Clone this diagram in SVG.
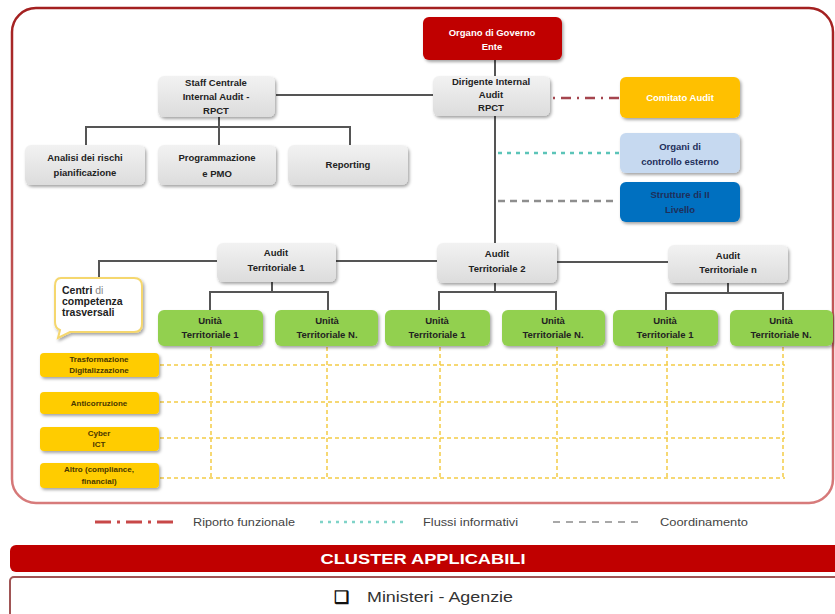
<svg xmlns="http://www.w3.org/2000/svg" width="835" height="614" viewBox="0 0 835 614">
<defs>
<filter id="sh" x="-10%" y="-10%" width="130%" height="140%">
<feDropShadow dx="1.5" dy="2" stdDeviation="1.5" flood-color="#000" flood-opacity="0.35"/>
</filter>
<linearGradient id="gray" x1="0" y1="0" x2="0" y2="1">
<stop offset="0" stop-color="#F2F2F2"/><stop offset="1" stop-color="#DCDCDC"/>
</linearGradient>
<linearGradient id="frame" x1="0" y1="0" x2="0" y2="1">
<stop offset="0" stop-color="#A32020"/><stop offset="1" stop-color="#D77B7B"/>
</linearGradient>
<style>
text{font-family:"Liberation Sans",Arial,sans-serif;}
.t{font-size:9.5px;font-weight:bold;fill:#222;text-anchor:middle;}
.tw{font-size:9.5px;font-weight:bold;fill:#fff;text-anchor:middle;}
.tn{font-size:9.5px;font-weight:bold;fill:#1F2F5A;text-anchor:middle;}
.ty{font-size:8px;font-weight:bold;fill:#4A3800;text-anchor:middle;}
.gray{fill:url(#gray);filter:url(#sh);}
.green{fill:#92D050;filter:url(#sh);}
.yel{fill:#FFCC00;filter:url(#sh);}
.ln{stroke:#555;stroke-width:2;fill:none;}
.grid{stroke:#F3CB45;stroke-width:1.5;stroke-dasharray:4 3;fill:none;}
.leg{font-size:11px;fill:#444;}
</style>
</defs>
<rect x="12" y="8" width="821" height="495" rx="24" fill="#fff" stroke="url(#frame)" stroke-width="2.5"/>
<g id="connectors">
<line class="ln" x1="495" y1="60" x2="495" y2="76"/>
<line class="ln" x1="495" y1="116" x2="495" y2="243"/>
<line class="ln" x1="276" y1="95" x2="433" y2="95"/>
<polyline class="ln" points="219,117 219,127"/>
<polyline class="ln" points="86,145 86,127 350,127 350,145"/>
<line class="ln" x1="219" y1="127" x2="219" y2="145"/>
<line x1="553" y1="98" x2="620" y2="98" stroke="#A5454E" stroke-width="2.5" stroke-dasharray="2 6 10 6"/>
<line x1="498" y1="153" x2="620" y2="153" stroke="#5BC4B8" stroke-width="2.5" stroke-dasharray="4 5"/>
<line x1="498" y1="201" x2="618" y2="201" stroke="#8E8E8E" stroke-width="2.5" stroke-dasharray="7 5"/>
<polyline class="ln" points="99,278 99,261 217,261"/>
<line class="ln" x1="336" y1="261" x2="437" y2="261"/>
<line class="ln" x1="557" y1="262" x2="668" y2="262"/>
<line class="ln" x1="272" y1="282" x2="272" y2="292"/>
<polyline class="ln" points="210,310 210,292 328,292 328,310"/>
<line class="ln" x1="495" y1="283" x2="495" y2="292"/>
<polyline class="ln" points="439,310 439,292 556,292 556,310"/>
<line class="ln" x1="728" y1="283" x2="728" y2="293"/>
<polyline class="ln" points="666,310 666,293 783,293 783,310"/>
<g id="grid">
<line class="grid" x1="160" y1="365" x2="785" y2="365"/>
<line class="grid" x1="160" y1="402" x2="785" y2="402"/>
<line class="grid" x1="160" y1="438" x2="785" y2="438"/>
<line class="grid" x1="160" y1="478" x2="785" y2="478"/>
<line class="grid" x1="211" y1="347" x2="211" y2="478"/>
<line class="grid" x1="327" y1="347" x2="327" y2="478"/>
<line class="grid" x1="440" y1="347" x2="440" y2="478"/>
<line class="grid" x1="557" y1="347" x2="557" y2="478"/>
<line class="grid" x1="667" y1="347" x2="667" y2="478"/>
<line class="grid" x1="783" y1="347" x2="783" y2="478"/>
</g>
</g>
<g id="organo"><rect x="423" y="17" width="139" height="43" rx="6" fill="#C00000" filter="url(#sh)"/>
<text class="tw" x="492" y="36">Organo di Governo</text><text class="tw" x="492" y="50">Ente</text></g>
<g id="dirigente"><rect class="gray" x="433" y="76" width="117" height="40" rx="6"/>
<text class="t" x="491" y="85">Dirigente Internal</text><text class="t" x="491" y="98">Audit</text><text class="t" x="491" y="111">RPCT</text></g>
<g id="staff"><rect class="gray" x="158" y="76" width="117" height="41" rx="6"/>
<text class="t" x="216" y="86">Staff Centrale</text><text class="t" x="216" y="100">Internal Audit -</text><text class="t" x="216" y="114">RPCT</text></g>
<g id="analisi"><rect class="gray" x="25" y="145" width="120" height="40" rx="6"/>
<text class="t" x="85" y="161">Analisi dei rischi</text><text class="t" x="85" y="176">pianificazione</text></g>
<g id="programmazione"><rect class="gray" x="158" y="145" width="118" height="40" rx="6"/>
<text class="t" x="217" y="161">Programmazione</text><text class="t" x="217" y="177">e PMO</text></g>
<g id="reporting"><rect class="gray" x="288" y="145" width="120" height="40" rx="6"/>
<text class="t" x="348" y="168">Reporting</text></g>
<g id="comitato"><rect x="620" y="77" width="120" height="41" rx="6" fill="#FFC000" filter="url(#sh)"/>
<text class="tw" x="680" y="101">Comitato Audit</text></g>
<g id="organi"><rect x="620" y="133" width="120" height="40" rx="6" fill="#C6D9F0" filter="url(#sh)"/>
<text class="tn" x="680" y="150">Organi di</text><text class="tn" x="680" y="165">controllo esterno</text></g>
<g id="strutture"><rect x="620" y="182" width="120" height="40" rx="6" fill="#0070C0" filter="url(#sh)"/>
<text class="tn" x="680" y="198">Strutture di II</text><text class="tn" x="680" y="213">Livello</text></g>
<g id="audit1"><rect class="gray" x="217" y="243" width="119" height="39" rx="6"/>
<text class="t" x="276" y="256">Audit</text><text class="t" x="276" y="271">Territoriale 1</text></g>
<g id="audit2"><rect class="gray" x="437" y="243" width="120" height="40" rx="6"/>
<text class="t" x="497" y="257">Audit</text><text class="t" x="497" y="272">Territoriale 2</text></g>
<g id="auditn"><rect class="gray" x="668" y="245" width="120" height="38" rx="6"/>
<text class="t" x="728" y="259">Audit</text><text class="t" x="728" y="273">Territoriale n</text></g>
<g id="centri">
<path d="M61,278 H134 Q142,278 142,286 V324 Q142,332 134,332 H70 L58,338 L60,330 Q55,328 55,322 V286 Q55,278 61,278 Z" fill="#fff" stroke="#F5D76E" stroke-width="2" filter="url(#sh)"/>
<text x="62" y="294" font-size="10.5" font-weight="bold" fill="#222">Centri <tspan font-weight="normal" fill="#888">di</tspan></text>
<text x="62" y="305" font-size="10.5" font-weight="bold" fill="#222">competenza</text>
<text x="62" y="316" font-size="10.5" font-weight="bold" fill="#222">trasversali</text>
</g>
<g id="u1a"><rect class="green" x="158" y="310" width="105" height="36" rx="6"/>
<text class="t" x="210" y="324">Unità</text><text class="t" x="210" y="338">Territoriale 1</text></g>
<g id="una"><rect class="green" x="275" y="310" width="103" height="36" rx="6"/>
<text class="t" x="327" y="324">Unità</text><text class="t" x="327" y="338">Territoriale N.</text></g>
<g id="u1b"><rect class="green" x="385" y="310" width="105" height="36" rx="6"/>
<text class="t" x="437" y="324">Unità</text><text class="t" x="437" y="338">Territoriale 1</text></g>
<g id="unb"><rect class="green" x="502" y="310" width="103" height="36" rx="6"/>
<text class="t" x="553" y="324">Unità</text><text class="t" x="553" y="338">Territoriale N.</text></g>
<g id="u1c"><rect class="green" x="613" y="310" width="105" height="36" rx="6"/>
<text class="t" x="665" y="324">Unità</text><text class="t" x="665" y="338">Territoriale 1</text></g>
<g id="unc"><rect class="green" x="730" y="310" width="103" height="36" rx="6"/>
<text class="t" x="781" y="324">Unità</text><text class="t" x="781" y="338">Territoriale N.</text></g>
<g id="trasformazione"><rect class="yel" x="40" y="353" width="119" height="24" rx="4"/>
<text class="ty" x="99" y="362">Trasformazione</text><text class="ty" x="99" y="373">Digitalizzazione</text></g>
<g id="anticorruzione"><rect class="yel" x="40" y="392" width="119" height="22" rx="4"/>
<text class="ty" x="99" y="406">Anticorruzione</text></g>
<g id="cyber"><rect class="yel" x="40" y="427" width="119" height="24" rx="4"/>
<text class="ty" x="99" y="436">Cyber</text><text class="ty" x="99" y="447">ICT</text></g>
<g id="altro"><rect class="yel" x="40" y="463" width="119" height="25" rx="4"/>
<text class="ty" x="99" y="472">Altro (compliance,</text><text class="ty" x="99" y="484">financial)</text></g>
<g id="legend">
<line x1="95" y1="522" x2="178" y2="522" stroke="#C84848" stroke-width="3" stroke-dasharray="16 6 3 6"/>
<text class="leg" x="193" y="526" textLength="102" lengthAdjust="spacingAndGlyphs">Riporto funzionale</text>
<line x1="320" y1="522" x2="408" y2="522" stroke="#7FD3C8" stroke-width="2.5" stroke-dasharray="3 5"/>
<text class="leg" x="423" y="526" textLength="95" lengthAdjust="spacingAndGlyphs">Flussi informativi</text>
<line x1="553" y1="522" x2="641" y2="522" stroke="#A8A8A8" stroke-width="2" stroke-dasharray="7 6"/>
<text class="leg" x="660" y="526" textLength="88" lengthAdjust="spacingAndGlyphs">Coordinamento</text>
</g>
<g id="cluster"><rect x="10" y="545" width="835" height="27" rx="6" fill="#C00000"/>
<text x="423" y="564" font-size="15" font-weight="bold" fill="#fff" text-anchor="middle" textLength="205" lengthAdjust="spacingAndGlyphs">CLUSTER APPLICABILI</text></g>
<g id="ministeri"><rect x="10" y="577" width="835" height="42" rx="4" fill="#fff" stroke="#A05555" stroke-width="2"/>
<text x="334" y="603" font-size="17" font-weight="bold" fill="#111" font-family="'DejaVu Sans',sans-serif">❑</text>
<text x="367" y="602" font-size="15" fill="#333" textLength="146" lengthAdjust="spacingAndGlyphs">Ministeri - Agenzie</text></g>
</svg>
